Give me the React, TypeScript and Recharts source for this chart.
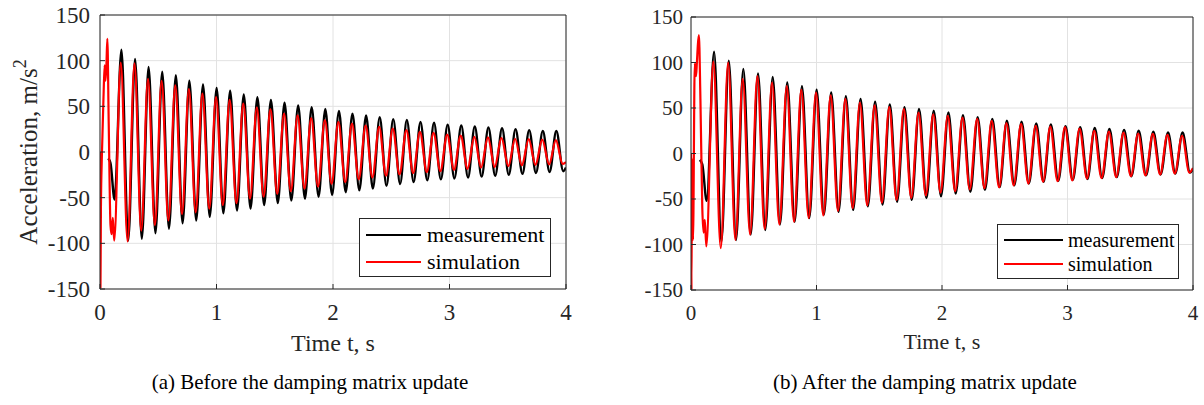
import React from "react";
import { LineChart, Line, XAxis, YAxis, CartesianGrid } from "recharts";

const timeTicks = [0, 1, 2, 3, 4];
const accelTicks = [-150, -100, -50, 0, 50, 100, 150];

// measured response (same record in both panels)
const measTime = [
  0.07, 0.09, 0.125,
  0.184, 0.242, 0.301, 0.359, 0.417, 0.476, 0.534, 0.592, 0.651, 0.709,
  0.767, 0.826, 0.884, 0.942, 1.001, 1.059, 1.117, 1.176, 1.234, 1.292,
  1.351, 1.409, 1.467, 1.526, 1.584, 1.642, 1.701, 1.759, 1.817, 1.876,
  1.934, 1.992, 2.051, 2.109, 2.167, 2.226, 2.284, 2.342, 2.401, 2.459,
  2.517, 2.576, 2.634, 2.692, 2.751, 2.809, 2.867, 2.926, 2.984, 3.042,
  3.101, 3.159, 3.217, 3.276, 3.334, 3.392, 3.451, 3.509, 3.567, 3.626,
  3.684, 3.742, 3.801, 3.859, 3.917, 3.976, 4.0,
];
const measAccel = [
  -7, -12, -52,
  112, -97, 102, -95, 93, -89, 88, -84, 84, -78,
  78, -75, 74, -71, 70, -67, 67, -64, 63, -62,
  60, -58, 57, -56, 54, -53, 51, -51, 49, -49,
  47, -47, 45, -44, 42, -42, 40, -40, 38, -37,
  36, -35, 35, -33, 33, -31, 32, -30, 30, -29,
  29, -28, 28, -27, 27, -26, 26, -25, 25, -24,
  24, -23, 23, -22, 23, -21, -17,
];

const simTime = [
  0, 0.004, 0.008, 0.016, 0.03, 0.04, 0.047, 0.055, 0.063, 0.075, 0.09, 0.1, 0.11, 0.122,
  0.178, 0.237, 0.296, 0.354, 0.412, 0.471, 0.529, 0.587, 0.646, 0.704,
  0.763, 0.821, 0.879, 0.938, 0.996, 1.054, 1.113, 1.171, 1.23, 1.288,
  1.346, 1.404, 1.463, 1.521, 1.58, 1.638, 1.696, 1.755, 1.813, 1.871,
  1.93, 1.988, 2.046, 2.105, 2.163, 2.221, 2.28, 2.338, 2.396, 2.455,
  2.513, 2.571, 2.63, 2.688, 2.746, 2.805, 2.863, 2.921, 2.98, 3.038,
  3.096, 3.155, 3.213, 3.271, 3.33, 3.388, 3.446, 3.505, 3.563, 3.621,
  3.68, 3.738, 3.796, 3.855, 3.913, 3.971, 4.0,
];
const simAccelBefore = [
  0, -148, -60, -5, 60, 95, 78, 95, 124, 30, -80, -90, -72, -97,
  98, -98, 97, -86, 80, -80, 78, -75, 73, -68,
  69, -66, 64, -62, 60, -58, 57, -56, 53, -51,
  49, -49, 47, -46, 42, -43, 40, -40, 37, -38,
  35, -35, 33, -33, 31, -30, 29, -28, 27.5, -26,
  25.5, -24.5, 24, -23, 22, -22, 21, -21, 19, -19.5,
  18, -18.5, 16.5, -17, 16, -16.5, 15.5, -15.5, 14.5, -14.5,
  14, -14, 13.5, -13.5, 13, -13, -11,
];
const simAccelAfter = [
  0, -150, -5, -95, 99, 85, 100, 120, 130, 60, -60, -87, -73, -102,
  101, -104, 100, -95, 82, -89, 85, -83, 78, -78,
  74, -75, 70, -71, 67, -68, 64, -63, 60, -60,
  56, -57, 53, -54, 51, -51, 49, -49, 45, -46,
  43, -43, 41.5, -41.5, 39.5, -39.5, 38, -38, 36, -37,
  33.5, -35, 32.5, -33, 30.5, -31, 29.5, -30.5, 29, -29.5,
  27.5, -27.5, 25, -27, 24, -26, 23, -25, 22, -24,
  21.5, -23, 20.5, -22, 19.5, -21, -16,
];

const seriesNames = ["measurement", "simulation"];
const xTitle = "Time t, s";
const yTitle = "Acceleration, m/s";
const captions = ["(a) Before the damping matrix update", "(b) After the damping matrix update"];

const INK = "#262626";
const SERIF = "'Liberation Serif', 'Times New Roman', serif";

const zip = (t: number[], a: number[]) => t.map((x, i) => ({ t: x, a: a[i] }));
const measData = zip(measTime, measAccel);
const simBefore = zip(simTime, simAccelBefore);
const simAfter = zip(simTime, simAccelAfter);

type Box = { left: number; top: number; width: number; height: number };

interface PanelProps {
  sim: { t: number; a: number }[];
  x: number;
  width: number;
  height: number;
  // plot area edges, in chart coordinates
  plot: { left: number; top: number; right: number; bottom: number };
  fontSize: number;
  yTickMargin: number;
  xLabelDy: number;
  xLabelSize: number;
  yLabel?: boolean;
  legend: Box & { lineW: number; rowY: number[]; textX: number; fontSize: number };
  caption: string;
  captionX: number;
}

function Panel(p: PanelProps) {
  const tickStyle = { fill: INK, fontSize: p.fontSize, fontFamily: SERIF };
  // axes are 1px thick so recharts still renders them
  const margin = {
    top: p.plot.top - 1,
    left: p.plot.left - 1,
    right: p.width - p.plot.right - 1,
    bottom: p.height - p.plot.bottom - 1,
  };
  return (
    <>
      <div style={{ position: "absolute", left: p.x, top: 0 }}>
        <LineChart width={p.width} height={p.height} margin={margin}>
          <CartesianGrid stroke="#e2e2e2" strokeWidth={1} />
          <XAxis
            dataKey="t"
            type="number"
            domain={[0, 4]}
            ticks={timeTicks}
            allowDataOverflow
            height={1}
            stroke={INK}
            tickSize={-5}
            tickMargin={20}
            tick={tickStyle}
            label={(props: any) => {
              const vb = props.viewBox;
              return (
                <text
                  x={vb.x + vb.width / 2}
                  y={vb.y + p.xLabelDy}
                  textAnchor="middle"
                  fill={INK}
                  fontSize={p.xLabelSize}
                  fontFamily={SERIF}
                >
                  {xTitle}
                </text>
              );
            }}
          />
          <XAxis
            xAxisId="top"
            orientation="top"
            type="number"
            domain={[0, 4]}
            ticks={timeTicks}
            allowDataOverflow
            height={1}
            stroke={INK}
            tickSize={-5}
            tick={false}
          />
          <YAxis
            type="number"
            domain={[-150, 150]}
            ticks={accelTicks}
            allowDataOverflow
            width={1}
            stroke={INK}
            tickSize={-5}
            tickMargin={p.yTickMargin}
            tick={tickStyle}
            label={
              p.yLabel
                ? (props: any) => {
                    const vb = props.viewBox;
                    const cy = vb.y + vb.height / 2;
                    return (
                      <text
                        x={37}
                        y={cy}
                        transform={`rotate(-90, 37, ${cy})`}
                        textAnchor="middle"
                        fill={INK}
                        fontSize={25}
                        fontFamily={SERIF}
                      >
                        {yTitle}
                        <tspan fontSize={18} dy={-11}>2</tspan>
                      </text>
                    );
                  }
                : undefined
            }
          />
          <YAxis
            yAxisId="right"
            orientation="right"
            type="number"
            domain={[-150, 150]}
            ticks={accelTicks}
            allowDataOverflow
            width={1}
            stroke={INK}
            tickSize={-5}
            tick={false}
          />
          <Line
            data={measData}
            dataKey="a"
            type="monotone"
            stroke="#000000"
            strokeWidth={2.4}
            dot={false}
            isAnimationActive={false}
          />
          <Line
            data={p.sim}
            dataKey="a"
            type="monotone"
            stroke="#ff0000"
            strokeWidth={2.2}
            dot={false}
            isAnimationActive={false}
          />
        </LineChart>
      </div>
      <div
        style={{
          position: "absolute",
          left: p.legend.left,
          top: p.legend.top,
          width: p.legend.width,
          height: p.legend.height,
          border: `1px solid ${INK}`,
          background: "#fff",
          boxSizing: "border-box",
          fontFamily: SERIF,
          fontSize: p.legend.fontSize,
          color: "#000",
        }}
      >
        {seriesNames.map((name, i) => (
          <React.Fragment key={name}>
            <div
              style={{
                position: "absolute",
                left: 6,
                top: p.legend.rowY[i] - 1,
                width: p.legend.lineW,
                height: 2,
                background: i === 0 ? "#000" : "#ff0000",
              }}
            />
            <div
              style={{
                position: "absolute",
                left: p.legend.textX,
                top: p.legend.rowY[i] - 15,
                height: 30,
                lineHeight: "30px",
                whiteSpace: "nowrap",
              }}
            >
              {name}
            </div>
          </React.Fragment>
        ))}
      </div>
      <div
        style={{
          position: "absolute",
          left: p.captionX - 250,
          width: 500,
          top: 370,
          height: 24,
          lineHeight: "24px",
          textAlign: "center",
          fontFamily: SERIF,
          fontSize: 21,
          color: "#000",
          whiteSpace: "nowrap",
        }}
      >
        {p.caption}
      </div>
    </>
  );
}

export default function App() {
  return (
    <div
      style={{
        position: "absolute",
        left: 0,
        top: 0,
        width: 1204,
        height: 405,
        background: "#fff",
        overflow: "hidden",
      }}
    >
      <Panel
        sim={simBefore}
        x={0}
        width={600}
        height={365}
        plot={{ left: 100, top: 15, right: 566, bottom: 289 }}
        fontSize={23}
        yTickMargin={15}
        xLabelDy={62}
        xLabelSize={24}
        yLabel
        legend={{ left: 359, top: 218, width: 192, height: 59, lineW: 55, rowY: [16, 43], textX: 67, fontSize: 22 }}
        caption={captions[0]}
        captionX={310}
      />
      <Panel
        sim={simAfter}
        x={600}
        width={604}
        height={365}
        plot={{ left: 91, top: 17, right: 593, bottom: 290 }}
        fontSize={21}
        yTickMargin={13}
        xLabelDy={59}
        xLabelSize={22}
        legend={{ left: 997, top: 224, width: 182, height: 55, lineW: 59, rowY: [15, 39], textX: 70, fontSize: 20 }}
        caption={captions[1]}
        captionX={925}
      />
    </div>
  );
}
